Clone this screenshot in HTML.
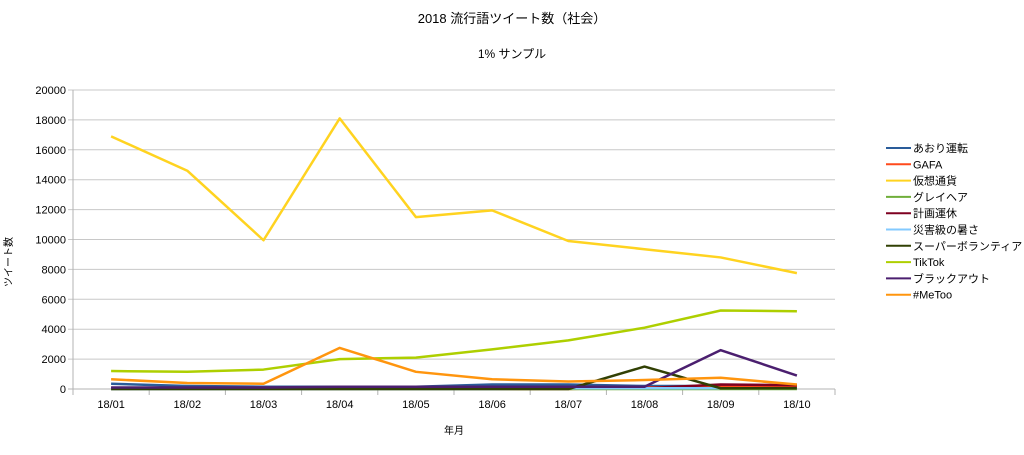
<!DOCTYPE html>
<html><head><meta charset="utf-8"><style>
body{margin:0;background:#fff;font-family:"Liberation Sans","Noto Sans CJK JP",sans-serif;}
svg text{font-family:"Liberation Sans","Noto Sans CJK JP",sans-serif;fill:#000;}
</style></head><body>
<svg id="chart" width="1024" height="450" xmlns="http://www.w3.org/2000/svg">
<rect width="1024" height="450" fill="#fff"/>
<text x="512" y="23" font-size="13" text-anchor="middle">2018 流行語ツイート数（社会）</text>
<text x="512" y="58" font-size="12" text-anchor="middle">1% サンプル</text>
<text x="454" y="434" font-size="10" text-anchor="middle">年月</text>
<text x="0" y="0" font-size="10" text-anchor="middle" transform="translate(12,262) rotate(-90)">ツイート数</text>
<g id="grid"></g><g id="series"></g><g id="legend"></g>
</svg>
<script>
const categories=["18/01","18/02","18/03","18/04","18/05","18/06","18/07","18/08","18/09","18/10"];
const yTicks=[0,2000,4000,6000,8000,10000,12000,14000,16000,18000,20000];
const seriesNames=["あおり運転","GAFA","仮想通貨","グレイヘア","計画運休","災害級の暑さ","スーパーボランティア","TikTok","ブラックアウト","#MeToo"];
const seriesColors=["#2a5c9a","#ff4a1c","#ffd320","#6fae3a","#7e0021","#83caff","#314004","#aecf00","#4b1f6f","#ff950e"];
const s0=[350,200,150,150,150,300,300,200,200,200];
const s1=[0,0,0,0,0,0,0,100,150,150];
const s2=[16900,14600,9950,18100,11500,11950,9900,9350,8800,7750];
const s3=[0,0,0,0,0,0,0,0,0,0];
const s4=[50,50,50,50,50,50,50,50,300,250];
const s5=[0,0,0,0,0,0,50,50,50,50];
const s6=[0,0,0,0,0,0,0,1500,50,50];
const s7=[1200,1150,1300,2000,2100,2650,3250,4100,5250,5200];
const s8=[100,100,100,150,150,150,150,150,2600,900];
const s9=[650,400,350,2750,1150,650,500,600,750,300];
const seriesData=[s0,s1,s2,s3,s4,s5,s6,s7,s8,s9];
const NS="http://www.w3.org/2000/svg";
const L=73,R=835,T=90,B=389,yMax=20000;
const step=(R-L)/categories.length;
const xPos=i=>L+step*(i+0.5);
const yPos=v=>B-(v/yMax)*(B-T);
function mk(tag,attrs,parent){const e=document.createElementNS(NS,tag);for(const k in attrs)e.setAttribute(k,attrs[k]);parent.appendChild(e);return e;}
const grid=document.getElementById('grid');
yTicks.forEach(v=>{
 const ln=mk('line',{x1:L-5,x2:R,y1:yPos(v),y2:yPos(v),stroke:v===0?'#b3b3b3':'#c8c8c8','stroke-width':1},grid);
 
 
 const t=mk('text',{x:L-7,y:yPos(v)+4,'font-size':11,'text-anchor':'end'},grid);
 t.textContent=v;
 
 
});
const ax=mk('line',{x1:L,x2:L,y1:T,y2:B,stroke:'#b3b3b3'},grid);


for(let i=0;i<=categories.length;i++){
 const tk=mk('line',{x1:L+step*i,x2:L+step*i,y1:B,y2:B+6,stroke:'#b3b3b3'},grid);
 
 
}
categories.forEach((c,i)=>{
 const t=mk('text',{x:xPos(i),y:408,'font-size':11,'text-anchor':'middle'},grid);
 t.textContent=c;
 
 
});
const sg=document.getElementById('series');
seriesData.forEach((d,si)=>{
 const p=mk('polyline',{points:d.map((v,i)=>xPos(i)+','+yPos(v)).join(' '),fill:'none',stroke:seriesColors[si],'stroke-width':2.5,'stroke-linejoin':'round'},sg);
 
 
});
const lg=document.getElementById('legend');
seriesNames.forEach((n,i)=>{
 const y=148+i*16.3;
 const g=mk('g',{},lg);
 
 
 mk('line',{x1:886,x2:911,y1:y,y2:y,stroke:seriesColors[i],'stroke-width':2},g);
 const t=mk('text',{x:913,y:y+4,'font-size':11},g);
 t.textContent=n;
});
</script>
</body></html>
